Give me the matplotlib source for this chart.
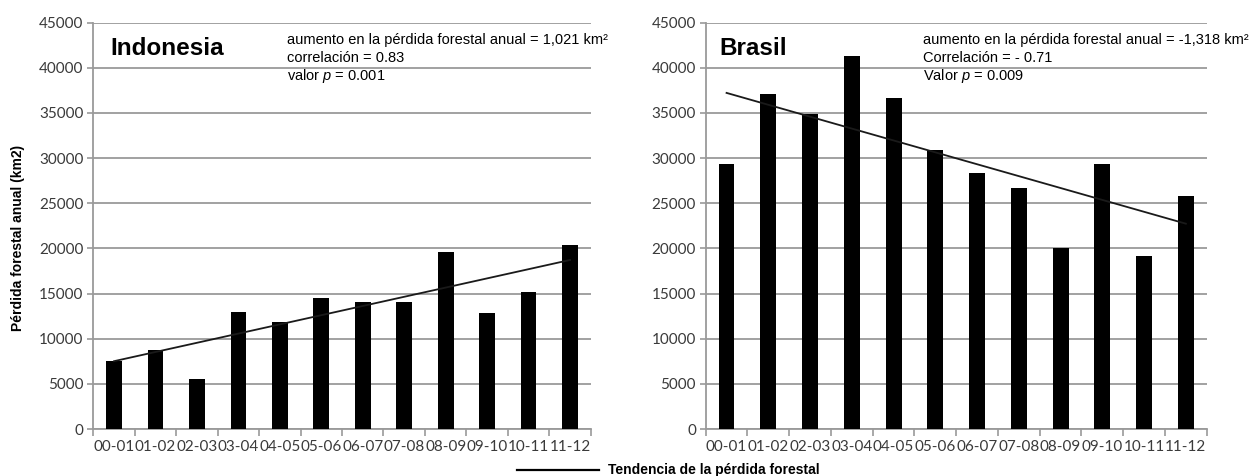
import numpy as np
import matplotlib
matplotlib.use("Agg")
import matplotlib.pyplot as plt
from matplotlib.lines import Line2D
from matplotlib.ticker import FixedLocator, NullFormatter

# Annual forest loss (km2) per period
periods = ["00-01", "01-02", "02-03", "03-04", "04-05", "05-06",
           "06-07", "07-08", "08-09", "09-10", "10-11", "11-12"]
indonesia = [7500, 8700, 5500, 13000, 11900, 14500, 14100, 14100, 19600, 12900, 15200, 20400]
brasil = [29300, 37100, 34900, 41300, 36700, 30900, 28400, 26700, 20100, 29400, 19200, 25800]

indonesia_stats = ["aumento en la pérdida forestal anual = 1,021 km²",
                   "correlación = 0.83",
                   "valor $p$ = 0.001"]
brasil_stats = ["aumento en la pérdida forestal anual = -1,318 km²",
                "Correlación = - 0.71",
                "Valor $p$ = 0.009"]

y_ticks = list(range(0, 45001, 5000))

TICK_FONT = "Lato"
TEXT_FONT = "Liberation Sans"
GRID = "#9a9a9a"

plt.rcParams["mathtext.fontset"] = "custom"
plt.rcParams["mathtext.it"] = "Liberation Sans:italic"
plt.rcParams["mathtext.rm"] = "Liberation Sans"

fig = plt.figure(figsize=(12.51, 4.76), dpi=100)
ax_l = fig.add_axes([0.0746, 0.0987, 0.3976, 0.8536])
ax_r = fig.add_axes([0.5641, 0.0987, 0.4005, 0.8536])

STATS_ROWS = [0.960, 0.916, 0.874]


def panel(ax, values, title, stats, title_x, stats_x):
    x = np.arange(len(values))
    ax.bar(x, values, width=0.38, color="black", zorder=3)
    slope, intercept = np.polyfit(x, values, 1)
    ax.plot([x[0], x[-1]], [intercept, intercept + slope * x[-1]],
            color="#1a1a1a", lw=1.3, zorder=4)

    ax.set_xlim(-0.5, len(values) - 0.5)
    ax.set_ylim(0, 45000)
    ax.set_yticks(y_ticks)
    ax.set_yticklabels([str(v) for v in y_ticks], family=TICK_FONT,
                       fontsize=11, color="#3a3a3a")
    ax.yaxis.grid(True, color=GRID, lw=1.3, zorder=0)
    ax.tick_params(axis="y", length=4, width=1.2, color=GRID, pad=3)

    # labels centred on each bar, tick marks on category boundaries
    ax.set_xticks(x)
    ax.set_xticklabels(periods, family=TICK_FONT, fontsize=11, color="#3a3a3a")
    ax.tick_params(axis="x", which="major", length=0, pad=8)
    ax.xaxis.set_minor_locator(FixedLocator(np.arange(-0.5, len(values), 1.0)))
    ax.xaxis.set_minor_formatter(NullFormatter())
    ax.tick_params(axis="x", which="minor", length=5, width=1.2, color=GRID)

    for side in ("top", "right"):
        ax.spines[side].set_visible(False)
    for side in ("left", "bottom"):
        ax.spines[side].set_color(GRID)
        ax.spines[side].set_linewidth(1.3)

    ax.text(title_x, 0.965, title, transform=ax.transAxes, family=TEXT_FONT,
            fontsize=17.5, fontweight="bold", va="top", ha="left")
    for row, line in zip(STATS_ROWS, stats):
        ax.text(stats_x, row, line, transform=ax.transAxes,
                family=TEXT_FONT, fontsize=10.5, va="center_baseline", ha="left")


panel(ax_l, indonesia, "Indonesia", indonesia_stats, 0.034, 0.389)
panel(ax_r, brasil, "Brasil", brasil_stats, 0.028, 0.433)

fig.text(0.014, 0.5, "Pérdida forestal anual (km2)", rotation=90,
         family=TEXT_FONT, fontsize=10, fontweight="bold",
         va="center", ha="center")

# legend for the trend line, centred under the two panels
fig.add_artist(Line2D([516.7 / 1251, 599 / 1251], [1 - 470 / 476, 1 - 470 / 476],
                      color="black", lw=1.6))
fig.text(608 / 1251, 1 - 470 / 476, "Tendencia de la pérdida forestal",
         family=TEXT_FONT, fontsize=10, fontweight="bold", va="center", ha="left")

fig.savefig("out.png", dpi=100, facecolor="white")
